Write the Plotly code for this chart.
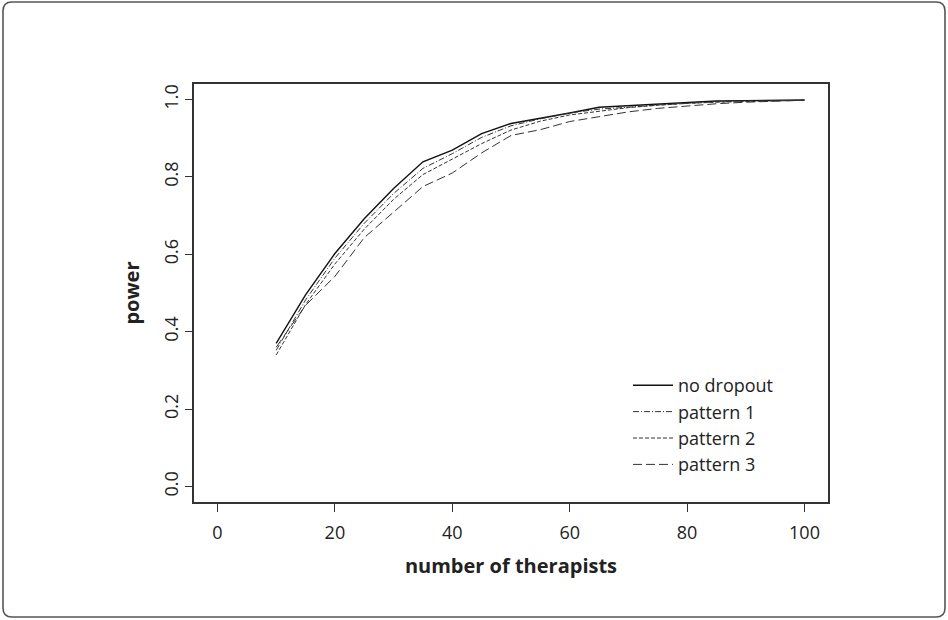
import plotly.graph_objects as go

therapists = [10, 15, 20, 25, 30, 35, 40, 45, 50, 55, 60, 65, 70, 75, 80, 85, 90, 95, 100]
no_dropout = [0.370, 0.495, 0.602, 0.692, 0.770, 0.839, 0.869, 0.912, 0.938, 0.951, 0.965, 0.980, 0.984, 0.989, 0.993, 0.996, 0.997, 0.998, 0.999]
pattern_1 = [0.352, 0.482, 0.590, 0.680, 0.757, 0.822, 0.860, 0.902, 0.932, 0.950, 0.965, 0.975, 0.980, 0.986, 0.990, 0.994, 0.996, 0.997, 0.998]
pattern_2 = [0.340, 0.470, 0.575, 0.665, 0.742, 0.806, 0.846, 0.886, 0.921, 0.944, 0.960, 0.970, 0.979, 0.985, 0.990, 0.993, 0.995, 0.997, 0.998]
pattern_3 = [0.360, 0.468, 0.543, 0.643, 0.709, 0.775, 0.810, 0.862, 0.907, 0.922, 0.943, 0.956, 0.968, 0.977, 0.983, 0.989, 0.993, 0.996, 0.998]

series = [
    ("no dropout", no_dropout, "solid", 1.4, "#111111"),
    ("pattern 1", pattern_1, "6px,2px,1px,2px", 1.0, "#333333"),
    ("pattern 2", pattern_2, "4px,2px", 1.0, "#333333"),
    ("pattern 3", pattern_3, "9px,4px", 1.0, "#333333"),
]

FONT = "Open Sans"

fig = go.Figure()
for name, vals, dash, w, col in series:
    fig.add_trace(go.Scatter(
        x=therapists, y=vals, mode="lines", name=name,
        line=dict(color=col, width=w, dash=dash),
    ))

W, H = 948, 620
L, R, T, B = 194, 120, 84, 118
pw, ph = W - L - R, H - T - B

def px_x(p):
    return (p - L) / pw

def px_y(p):
    return (H - B - p) / ph

# rounded outer frame
x0, x1, y0, y1, r = 3, 945, 2, 617, 9
path = (f"M {px_x(x0 + r)} {px_y(y0)} L {px_x(x1 - r)} {px_y(y0)} "
        f"Q {px_x(x1)} {px_y(y0)} {px_x(x1)} {px_y(y0 + r)} "
        f"L {px_x(x1)} {px_y(y1 - r)} "
        f"Q {px_x(x1)} {px_y(y1)} {px_x(x1 - r)} {px_y(y1)} "
        f"L {px_x(x0 + r)} {px_y(y1)} "
        f"Q {px_x(x0)} {px_y(y1)} {px_x(x0)} {px_y(y1 - r)} "
        f"L {px_x(x0)} {px_y(y0 + r)} "
        f"Q {px_x(x0)} {px_y(y0)} {px_x(x0 + r)} {px_y(y0)} Z")

fig.update_layout(
    width=W, height=H,
    margin=dict(l=L, r=R, t=T, b=B),
    paper_bgcolor="white", plot_bgcolor="white",
    font=dict(family=FONT, size=18, color="#222222"),
    shapes=[dict(type="path", xref="paper", yref="paper", path=path,
                 line=dict(color="#555555", width=1.6), layer="below")],
    legend=dict(
        x=px_x(628), y=px_y(367), xanchor="left", yanchor="top",
        bgcolor="rgba(0,0,0,0)", borderwidth=0,
        font=dict(family=FONT, size=18, color="#222222"),
        tracegroupgap=0, itemwidth=40,
    ),
    showlegend=True,
)

fig.update_xaxes(
    range=[-4, 104], tickvals=[0, 20, 40, 60, 80, 100],
    showgrid=False, zeroline=False,
    showline=True, linecolor="#333333", linewidth=1.5, mirror=True,
    ticks="outside", ticklen=8, tickcolor="#333333", tickwidth=1,
    ticklabelstandoff=6,
    tickfont=dict(family=FONT, size=18, color="#222222"),
    title=dict(text="<b>number of therapists</b>", font=dict(family=FONT, size=20, color="#222222"), standoff=16),
)
fig.update_yaxes(
    range=[-0.04, 1.04], tickvals=[0, 0.2, 0.4, 0.6, 0.8, 1.0],
    ticktext=["0.0", "0.2", "0.4", "0.6", "0.8", "1.0"],
    tickangle=-90,
    showgrid=False, zeroline=False,
    showline=True, linecolor="#333333", linewidth=1.5, mirror=True,
    ticks="outside", ticklen=7, tickcolor="#333333", tickwidth=1,
    tickfont=dict(family=FONT, size=18, color="#222222"),
    title=dict(text="<b>power</b>", font=dict(family=FONT, size=20, color="#222222"), standoff=14),
)

fig.write_html(
    "out.html",
    config={"displayModeBar": False},
    post_script="document.body.style.margin='0';document.body.style.overflow='hidden';",
)
